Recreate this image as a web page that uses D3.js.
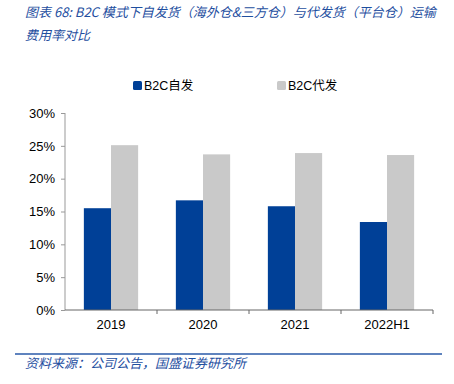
<!DOCTYPE html>
<html>
<head>
<meta charset="utf-8">
<script src="https://cdn.jsdelivr.net/npm/d3@7"></script>
<style>
  body { margin: 0; background: #fff; }
  svg { display: block; }
</style>
</head>
<body>
<div id="chart"></div>
<script>
const years = ["2019", "2020", "2021", "2022H1"];
const seriesNames = ["B2C自发", "B2C代发"];
const selfShip = [0.155, 0.167, 0.158, 0.134];
const platformShip = [0.251, 0.237, 0.239, 0.236];
const yTicks = [0, 0.05, 0.10, 0.15, 0.20, 0.25, 0.30];

const width = 454, height = 384;
const margin = { top: 113, right: 21, bottom: 74, left: 65 };
const font = "'Liberation Sans', Arial, 'Noto Sans CJK SC', sans-serif";
const cjk = "'Noto Sans CJK SC', 'Liberation Sans', sans-serif";
const titleBlue = "#1f4f9f";

const tidy = [];
years.forEach((yr, i) => {
  tidy.push({ year: yr, series: seriesNames[0], value: selfShip[i] });
  tidy.push({ year: yr, series: seriesNames[1], value: platformShip[i] });
});

const svg = d3.select("#chart").append("svg")
  .attr("width", width)
  .attr("height", height);

// title (two lines, italic blue)
svg.append("text")
  .attr("x", 25).attr("y", 17)
  .attr("fill", titleBlue)
  .style("font-family", cjk).style("font-style", "italic")
  .style("font-size", "13px")
  .text("图表 68:  B2C 模式下自发货（海外仓&三方仓）与代发货（平台仓）运输");
svg.append("text")
  .attr("x", 25).attr("y", 40)
  .attr("fill", titleBlue)
  .style("font-family", cjk).style("font-style", "italic")
  .style("font-size", "13px")
  .text("费用率对比");

const innerW = width - margin.left - margin.right;
const innerH = height - margin.top - margin.bottom;

const chart = svg.append("g")
  .attr("transform", `translate(${margin.left},${margin.top})`);

const x0 = d3.scaleBand().domain(years).range([0, innerW]).padding(0);
const x1 = d3.scaleBand().domain(seriesNames)
  .range([x0.bandwidth() * 0.205, x0.bandwidth() * 0.795]).padding(0);
const y = d3.scaleLinear().domain([0, 0.30]).range([innerH, 0]);
const color = d3.scaleOrdinal().domain(seriesNames).range(["#004097", "#c9c9c9"]);

// bars
chart.selectAll("rect.bar")
  .data(tidy)
  .join("rect")
  .attr("class", "bar")
  .attr("x", d => x0(d.year) + x1(d.series))
  .attr("width", x1.bandwidth())
  .attr("y", d => y(d.value))
  .attr("height", d => y(0) - y(d.value))
  .attr("fill", d => color(d.series));

// y axis
chart.append("g")
  .call(d3.axisLeft(y).tickValues(yTicks).tickSize(4).tickPadding(6)
    .tickFormat(d3.format(".0%")))
  .call(g => g.select(".domain").attr("stroke", "#999").attr("d", `M0,0V${innerH}`))
  .call(g => g.selectAll(".tick line").attr("stroke", "#999"))
  .call(g => g.selectAll("text")
    .attr("fill", "#000")
    .style("font-size", "13px")
    .style("font-family", font));

// x axis
const xAxis = chart.append("g")
  .attr("transform", `translate(0,${innerH})`)
  .call(d3.axisBottom(x0).tickSize(0).tickPadding(10))
  .call(g => g.select(".domain").attr("stroke", "#666").attr("d", `M0,0H${innerW}`))
  .call(g => g.selectAll("text")
    .attr("fill", "#000")
    .style("font-size", "13px")
    .style("font-family", font));

// category separator ticks
xAxis.selectAll("line.sep")
  .data(years.map(d => x0(d) + x0.bandwidth()))
  .join("line")
  .attr("class", "sep")
  .attr("x1", d => d).attr("x2", d => d)
  .attr("y1", 0).attr("y2", 4)
  .attr("stroke", "#666");

// legend
const legend = svg.append("g").attr("transform", "translate(133,81)");
const items = legend.selectAll("g")
  .data(seriesNames)
  .join("g")
  .attr("transform", (d, i) => `translate(${i * 144},0)`);
items.append("rect")
  .attr("width", 9).attr("height", 9)
  .attr("rx", 1.5)
  .attr("fill", d => color(d));
items.append("text")
  .attr("x", 11).attr("y", 9)
  .attr("fill", "#000")
  .style("font-size", "12.5px")
  .style("font-family", font)
  .text(d => d);

// footer rule + source
svg.append("line")
  .attr("x1", 15).attr("x2", 442)
  .attr("y1", 354).attr("y2", 354)
  .attr("stroke", "#2a5aa8").attr("stroke-width", 1.5);
svg.append("text")
  .attr("x", 25).attr("y", 368)
  .attr("fill", titleBlue)
  .style("font-family", cjk).style("font-style", "italic")
  .style("font-size", "13px")
  .text("资料来源：公司公告，国盛证券研究所");
</script>
</body>
</html>
